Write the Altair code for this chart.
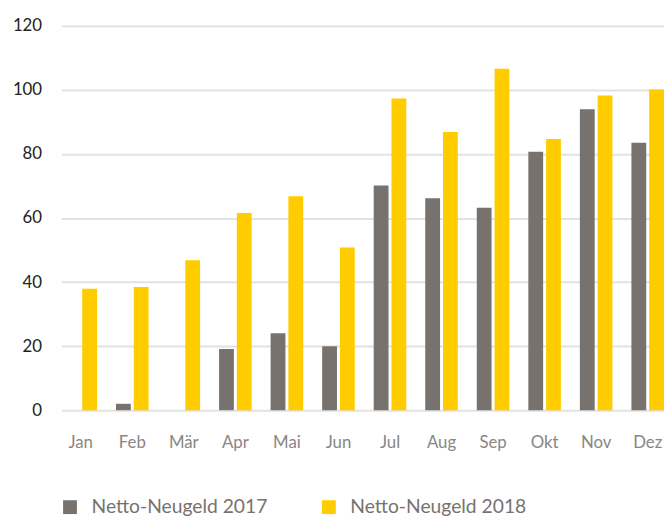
import altair as alt
import pandas as pd

months = ["Jan", "Feb", "Mär", "Apr", "Mai", "Jun", "Jul", "Aug", "Sep", "Okt", "Nov", "Dez"]
series = ["Netto-Neugeld 2017", "Netto-Neugeld 2018"]
values_2017 = [0, 2, 0, 19.1, 24.0, 20.0, 70.2, 66.2, 63.2, 80.7, 94.0, 83.5]
values_2018 = [37.9, 38.5, 46.8, 61.6, 66.8, 50.8, 97.3, 86.9, 106.6, 84.7, 98.3, 100.1]
colors = ["#77726e", "#ffcc00"]
y_ticks = [0, 20, 40, 60, 80, 100, 120]

rows = []
for m, a, b in zip(months, values_2017, values_2018):
    rows.append({"Monat": m, "Serie": series[0], "Wert": a})
    rows.append({"Monat": m, "Serie": series[1], "Wert": b})
df = pd.DataFrame(rows)

FONT = "Lato"

chart = alt.Chart(df).mark_bar().encode(
    x=alt.X("Monat:N", sort=months,
            scale=alt.Scale(paddingInner=0.368, paddingOuter=0.03, align=1),
            axis=alt.Axis(title=None, labelAngle=0, ticks=False, domain=False,
                          labelFontSize=17, labelColor="#8a8684", labelPadding=25,
                          labelFont=FONT)),
    xOffset=alt.XOffset("Serie:N", sort=series,
                        scale=alt.Scale(paddingInner=0.1667, paddingOuter=0)),
    y=alt.Y("Wert:Q", scale=alt.Scale(domain=[0, 120], nice=False),
            axis=alt.Axis(title=None, values=y_ticks, ticks=False, tickSize=0, domain=False,
                          labelFontSize=17, labelColor="#222222", labelPadding=20,
                          labelFont=FONT, gridColor="#e2e2e2", gridWidth=2)),
    color=alt.Color("Serie:N", sort=series,
                    scale=alt.Scale(domain=series, range=colors),
                    legend=alt.Legend(title=None, orient="none", direction="horizontal",
                                      legendX=-1, legendY=477, symbolType="square",
                                      symbolSize=196, symbolStrokeWidth=0, symbolOpacity=1,
                                      labelFontSize=19.5, labelColor="#77726e",
                                      labelFont=FONT, labelOffset=12, columnPadding=52,
                                      padding=0, labelLimit=400)),
).properties(
    width=610,
    height=389,
    autosize=alt.AutoSizeParams(type="none"),
    padding={"left": 54, "top": 15, "right": 0, "bottom": 106},
).configure_view(stroke=None).configure_legend(symbolStrokeWidth=0)

chart.save("out.html", embed_options={"renderer": "svg", "actions": False})
